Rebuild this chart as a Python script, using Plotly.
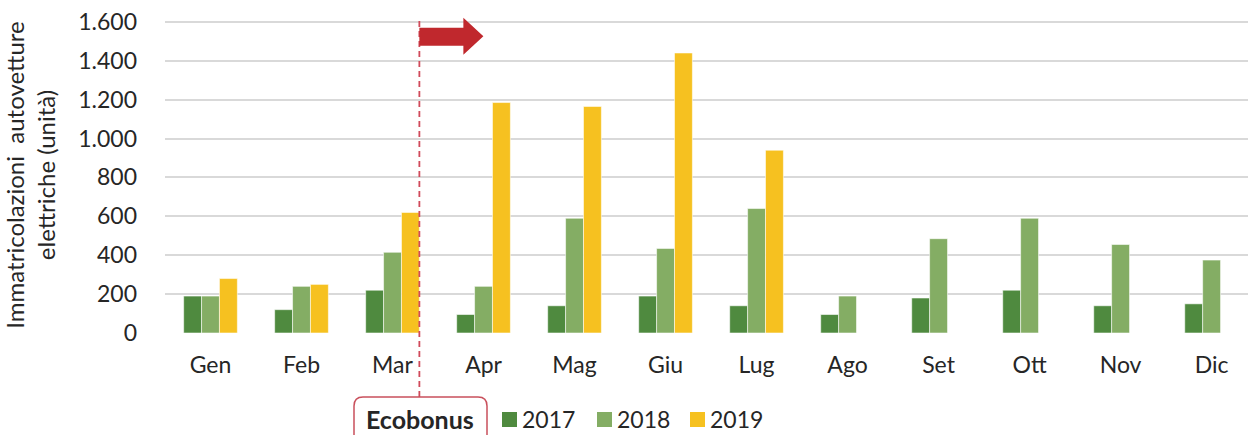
import plotly.graph_objects as go

months = ["Gen", "Feb", "Mar", "Apr", "Mag", "Giu", "Lug", "Ago", "Set", "Ott", "Nov", "Dic"]
y2017 = [190, 120, 220, 95, 140, 190, 140, 95, 180, 220, 140, 150]
y2018 = [190, 240, 415, 240, 590, 435, 640, 190, 485, 590, 455, 375]
y2019 = [280, 250, 620, 1185, 1165, 1440, 940, None, None, None, None, None]
series_names = ["2017", "2018", "2019"]
colors = ["#4f8a3f", "#84ad64", "#f6c120"]
ytick_vals = [0, 200, 400, 600, 800, 1000, 1200, 1400, 1600]

FONT = "Lato"
TXT = "#262626"
RED = "#c0282d"
W, H = 1248, 435
ML, MR, MT, MB = 165, 0, 17, 102
BARGAP = 0.41
XR = [-0.5, 11.4]
YR = [0, 1625]

xpos = list(range(len(months)))
fig = go.Figure()
for name, vals, col in zip(series_names, [y2017, y2018, y2019], colors):
    fig.add_trace(go.Bar(
        x=xpos, y=vals, name=name, showlegend=False,
        marker=dict(color=col, line=dict(color="rgba(255,255,255,0.55)", width=1)),
    ))

plot_w = W - ML - MR
plot_h = H - MT - MB
px_per_x = plot_w / (XR[1] - XR[0])
px_per_y = plot_h / (YR[1] - YR[0])
base_px = H - MB  # pixel row of y=0


def px_x(p):
    return (p - ML) / plot_w


def px_y(p):
    return (base_px - p) / plot_h


# Ecobonus marker: right edge of the March group
edge_x = 2 + 0.5 * (1 - BARGAP)

shapes = []
shapes.append(dict(type="line", xref="x", yref="paper", x0=edge_x, x1=edge_x,
                   y0=px_y(397), y1=px_y(20),
                   line=dict(color="#d04a5a", width=1.8, dash="6px,4px")))

# block arrow
ax0 = edge_x
ax_head = edge_x + 44 / px_per_x
ax_tip = edge_x + 64 / px_per_x
yb_top = 1600 - (28 - 22) / px_per_y
yb_bot = 1600 - (46 - 22) / px_per_y
yh_top = 1600 + (22 - 18) / px_per_y
yh_bot = 1600 - (55 - 22) / px_per_y
ymid = (yh_top + yh_bot) / 2
path = (f"M{ax0},{yb_top} L{ax_head},{yb_top} L{ax_head},{yh_top} L{ax_tip},{ymid} "
        f"L{ax_head},{yh_bot} L{ax_head},{yb_bot} L{ax0},{yb_bot} Z")
shapes.append(dict(type="path", xref="x", yref="y", path=path,
                   fillcolor=RED, line=dict(width=0)))

# rounded Ecobonus box (open at bottom, cut by figure edge)
bx0, bx1 = px_x(354), px_x(487)
by_top, by_bot = px_y(397), px_y(445)
rx, ry = 9 / plot_w, 9 / plot_h
box = (f"M{bx0},{by_bot} L{bx0},{by_top - ry} Q{bx0},{by_top} {bx0 + rx},{by_top} "
       f"L{bx1 - rx},{by_top} Q{bx1},{by_top} {bx1},{by_top - ry} L{bx1},{by_bot}")
shapes.append(dict(type="path", xref="paper", yref="paper", path=box,
                   line=dict(color="#c9505c", width=1.5)))

legend_cy = 419
annotations = [dict(xref="paper", yref="paper", x=px_x(419.5), y=px_y(legend_cy),
                    text="<b>Ecobonus</b>", showarrow=False, xanchor="center", yanchor="middle",
                    font=dict(family=FONT, size=25, color=TXT))]

# legend entries (square swatch + label)
leg_x0 = [502, 597, 690]
for name, col, lx in zip(series_names, colors, leg_x0):
    shapes.append(dict(type="rect", xref="paper", yref="paper",
                       x0=px_x(lx), x1=px_x(lx + 15), y0=px_y(427), y1=px_y(412),
                       fillcolor=col, line=dict(width=0)))
    annotations.append(dict(xref="paper", yref="paper", x=px_x(lx + 18), y=px_y(legend_cy),
                            text=name, showarrow=False, xanchor="left", yanchor="middle",
                            font=dict(family=FONT, size=23, color=TXT)))

fig.update_layout(
    width=W, height=H,
    margin=dict(l=ML, r=MR, t=MT, b=MB, pad=0, autoexpand=False),
    paper_bgcolor="white", plot_bgcolor="white",
    separators=",.",
    barmode="group", bargap=BARGAP, bargroupgap=0,
    font=dict(family=FONT, size=23, color=TXT),
    showlegend=False,
    shapes=shapes,
    annotations=annotations,
    xaxis=dict(range=XR, tickvals=xpos, ticktext=months, showgrid=False, zeroline=False,
               showline=False, ticks="", ticklabelstandoff=16, automargin=False,
               tickfont=dict(family=FONT, size=23, color=TXT)),
    yaxis=dict(range=YR, tickvals=ytick_vals, tickformat=",", showgrid=True,
               gridcolor="#d9d9d9", gridwidth=1.5, zeroline=False, showline=False, ticks="",
               ticklabelstandoff=27, automargin=False,
               tickfont=dict(family=FONT, size=23, color=TXT),
               title=dict(text="Immatricolazioni  autovetture<br>elettriche (unità)",
                          font=dict(family=FONT, size=24, color=TXT), standoff=17)),
)

fig.write_html("out.html", config={"displayModeBar": False},
               post_script="document.body.style.margin='0';document.body.style.overflow='hidden';")
